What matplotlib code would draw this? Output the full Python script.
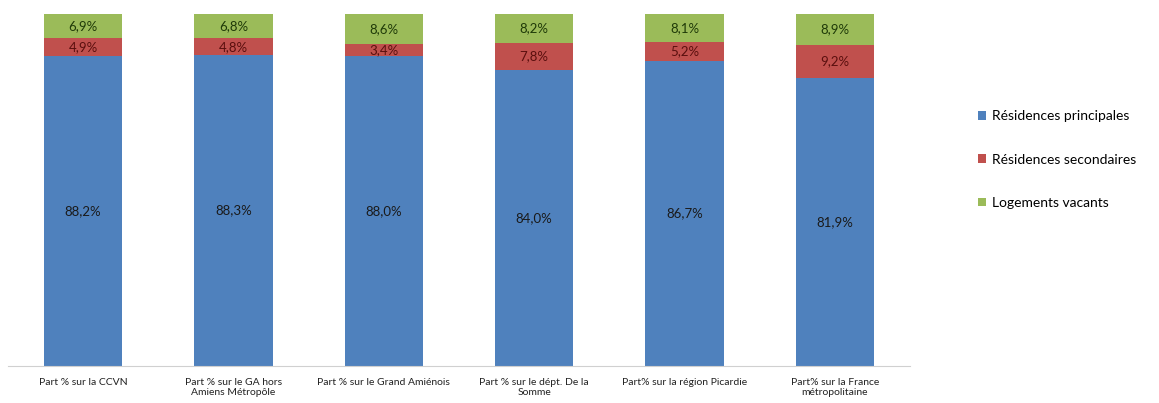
import matplotlib
matplotlib.use("Agg")
import matplotlib.pyplot as plt
import numpy as np

plt.rcParams['font.family'] = ['Lato', 'DejaVu Sans']

categories = ["Part % sur la CCVN",
              "Part % sur le GA hors\nAmiens Métropôle",
              "Part % sur le Grand Amiénois",
              "Part % sur le dépt. De la\nSomme",
              "Part% sur la région Picardie",
              "Part% sur la France\nmétropolitaine"]
principales = [88.2, 88.3, 88.0, 84.0, 86.7, 81.9]
secondaires = [4.9, 4.8, 3.4, 7.8, 5.2, 9.2]
vacants = [6.9, 6.8, 8.6, 8.2, 8.1, 8.9]
series_names = ["Résidences principales", "Résidences secondaires", "Logements vacants"]

colors = ["#4F81BD", "#C0504D", "#9BBB59"]
text_colors = ["#1a1a1a", "#5a0f0e", "#1f3a08"]

fig = plt.figure(figsize=(11.59, 4.03), dpi=100)
ax = fig.add_axes([0.0069, 0.0918, 0.7783, 0.8735])

x = np.arange(len(categories))
w = 0.52
bottom = np.zeros(len(categories))
for vals, c, tc, name in zip([principales, secondaires, vacants], colors, text_colors, series_names):
    vals = np.array(vals)
    ax.bar(x, vals, w, bottom=bottom, color=c, label=name)
    for xi, b, v in zip(x, bottom, vals):
        ax.text(xi, b + v / 2, f"{v:.1f}%".replace('.', ','), ha='center', va='center',
                fontsize=9.5, color=tc)
    bottom += vals

ax.set_xlim(-0.5, len(categories) - 0.5)
ax.set_ylim(0, 100)
ax.set_xticks(x)
ax.set_xticklabels(categories, fontsize=7.5, color="#222222", linespacing=1.2)
ax.tick_params(axis='x', length=0, pad=8.5)
ax.set_yticks([])
for s in ['top', 'right', 'left']:
    ax.spines[s].set_visible(False)
ax.spines['bottom'].set_color("#d0d0d0")

leg = fig.legend(loc='upper left', bbox_to_anchor=(0.833, 0.757), frameon=False,
                 fontsize=10, handlelength=0.6, handleheight=0.6, handletextpad=0.4,
                 labelspacing=2.25)
fig.savefig("out.png", dpi=100)
